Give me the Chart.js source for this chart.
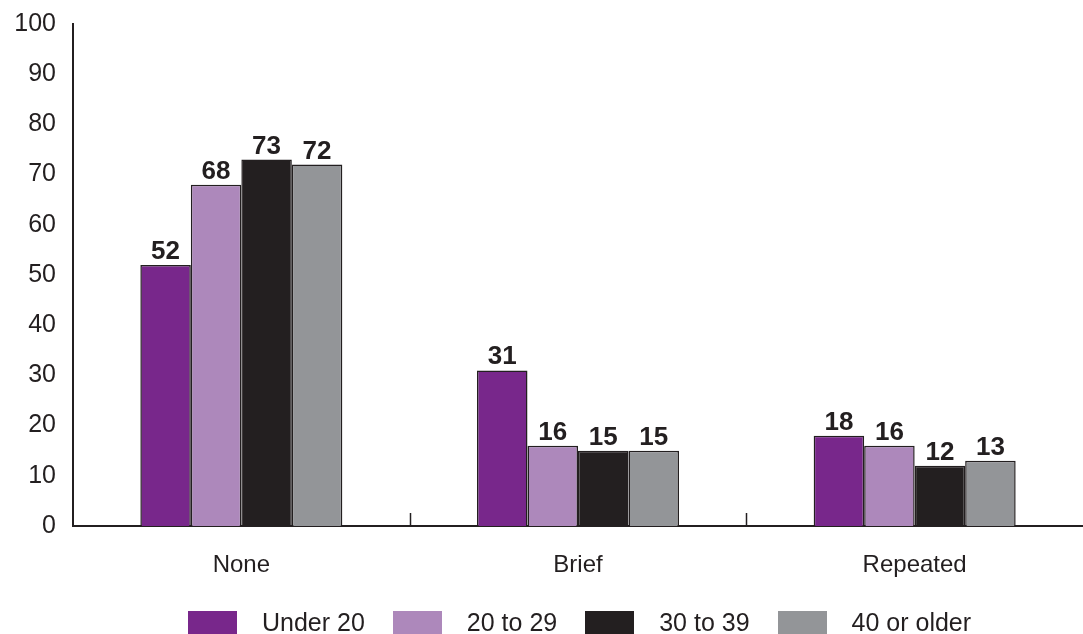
<!DOCTYPE html>
<html>
<head>
<meta charset="utf-8">
<script src="https://cdn.jsdelivr.net/npm/chart.js@4"></script>
<style>
  html, body { margin: 0; padding: 0; background: #fff; }
  #wrap { position: relative; width: 1083px; height: 634px; }
  #legend {
    position: absolute; left: 188px; top: 608px;
    display: flex; align-items: center;
    font-family: "Liberation Sans", Arial, sans-serif; font-size: 25px; color: #231f20;
  }
  #legend .item { display: flex; align-items: center; margin-right: 28px; }
  #legend .box { width: 49px; height: 23px; margin-right: 25px; }
</style>
</head>
<body>
<div id="wrap">
  <canvas id="chart" width="1083" height="634"></canvas>
  <div id="legend"></div>
</div>
<script>
// Categories and series
const categories = ['None', 'Brief', 'Repeated'];
const seriesNames = ['Under 20', '20 to 29', '30 to 39', '40 or older'];
const under20 = [52, 31, 18];
const age20to29 = [68, 16, 16];
const age30to39 = [73, 15, 12];
const age40plus = [72, 15, 13];
const yTicks = [0, 10, 20, 30, 40, 50, 60, 70, 80, 90, 100];

const colors = ['#78278b', '#ad88bb', '#231f20', '#939598'];
const inkColor = '#231f20';
const fontFamily = '"Liberation Sans", Arial, sans-serif';

const seriesValues = [under20, age20to29, age30to39, age40plus];

// Value labels above each bar
const barLabels = {
  id: 'barLabels',
  afterDatasetsDraw(chart) {
    const ctx = chart.ctx;
    ctx.save();
    ctx.font = 'bold 26px ' + fontFamily;
    ctx.fillStyle = inkColor;
    ctx.textAlign = 'center';
    ctx.textBaseline = 'alphabetic';
    chart.data.datasets.forEach((ds, di) => {
      chart.getDatasetMeta(di).data.forEach((bar, i) => {
        ctx.fillText(String(ds.data[i]), bar.x, bar.y - 6);
      });
    });
    ctx.restore();
  }
};

// Small upward ticks between the category groups
const groupTicks = {
  id: 'groupTicks',
  afterDraw(chart) {
    const x = chart.scales.x;
    const ctx = chart.ctx;
    ctx.save();
    ctx.strokeStyle = inkColor;
    ctx.lineWidth = 1.5;
    for (let i = 1; i < categories.length; i++) {
      const px = Math.round((x.getPixelForValue(i - 1) + x.getPixelForValue(i)) / 2) + 0.5;
      ctx.beginPath();
      ctx.moveTo(px, x.top - 13);
      ctx.lineTo(px, x.top);
      ctx.stroke();
    }
    ctx.restore();
  }
};

const ctx = document.getElementById('chart').getContext('2d');
const chart = new Chart(ctx, {
  type: 'bar',
  data: {
    labels: categories,
    datasets: seriesNames.map((name, i) => ({
      label: name,
      data: seriesValues[i],
      backgroundColor: colors[i],
      borderColor: inkColor,
      borderWidth: 1.5,
      categoryPercentage: 0.6,
      barPercentage: 1.0
    }))
  },
  options: {
    responsive: false,
    animation: false,
    layout: { padding: { top: 24, right: 0, left: 0, bottom: 0 } },
    plugins: {
      legend: { display: false },
      tooltip: { enabled: false }
    },
    scales: {
      x: {
        grid: { display: false, drawTicks: false },
        border: { display: true, color: inkColor, width: 2 },
        ticks: {
          color: inkColor,
          padding: 25,
          font: { family: fontFamily, size: 24 }
        },
        afterFit(scale) {
          scale.height = 108;
          scale.paddingLeft = 0;
          scale.paddingRight = 0;
        }
      },
      y: {
        min: 0,
        max: 100,
        afterBuildTicks(scale) { scale.ticks = yTicks.map(v => ({ value: v })); },
        grid: { display: false, drawTicks: false },
        border: { display: true, color: inkColor, width: 2 },
        ticks: {
          color: inkColor,
          padding: 17,
          font: { family: fontFamily, size: 25 }
        },
        afterFit(scale) {
          scale.width = 73;
          scale.paddingTop = 0;
          scale.paddingBottom = 0;
        }
      }
    }
  },
  plugins: [barLabels, groupTicks]
});

// Legend row under the chart
const legendEl = document.getElementById('legend');
seriesNames.forEach((name, i) => {
  const item = document.createElement('div');
  item.className = 'item';
  const box = document.createElement('span');
  box.className = 'box';
  box.style.background = colors[i];
  const label = document.createElement('span');
  label.textContent = name;
  item.appendChild(box);
  item.appendChild(label);
  legendEl.appendChild(item);
});
</script>
</body>
</html>
